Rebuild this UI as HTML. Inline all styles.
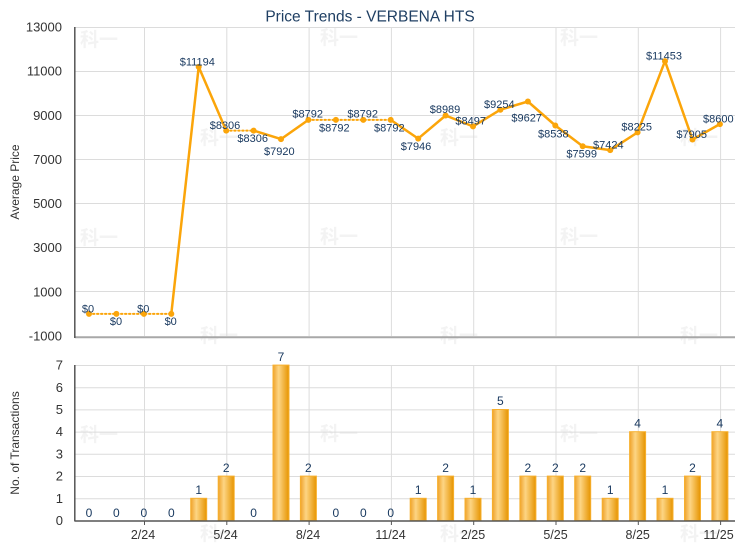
<!DOCTYPE html>
<html><head><meta charset="utf-8"><style>
html,body{margin:0;padding:0;background:#fff;}
svg{display:block;}
text{font-family:"Liberation Sans","Noto Sans CJK SC",sans-serif;}
</style></head><body>
<svg width="740" height="550" viewBox="0 0 740 550" xmlns="http://www.w3.org/2000/svg">
<defs>
<linearGradient id="bg" x1="0" y1="0" x2="1" y2="0">
<stop offset="0" stop-color="#efa22a"/>
<stop offset="0.35" stop-color="#fdd584"/>
<stop offset="1" stop-color="#e69400"/>
</linearGradient>
</defs>
<rect width="740" height="550" fill="#fff"/>
<!-- watermarks -->
<g fill="#f3f3f3" font-size="19" font-weight="bold" font-family="'Noto Sans CJK SC',sans-serif">
<text x="80" y="46">科一</text><text x="320" y="44">科一</text><text x="560" y="44">科一</text>
<text x="200" y="144">科一</text><text x="440" y="144">科一</text><text x="680" y="144">科一</text>
<text x="80" y="244">科一</text><text x="320" y="243">科一</text><text x="560" y="243">科一</text>
<text x="200" y="342">科一</text><text x="440" y="342">科一</text><text x="680" y="342">科一</text>
<text x="80" y="441">科一</text><text x="320" y="440">科一</text><text x="560" y="440">科一</text>
<text x="200" y="540">科一</text><text x="440" y="540">科一</text><text x="680" y="540">科一</text>
</g>
<!-- title -->
<text x="370" y="21.5" text-anchor="middle" font-size="15.5" fill="#1f3f63">Price Trends - VERBENA HTS</text>
<!-- top grid -->
<g stroke="#dcdcdc" stroke-width="1">
<line x1="75" y1="27.5" x2="735" y2="27.5"/>
<line x1="75" y1="71.5" x2="735" y2="71.5"/>
<line x1="75" y1="115.5" x2="735" y2="115.5"/>
<line x1="75" y1="159.5" x2="735" y2="159.5"/>
<line x1="75" y1="203.5" x2="735" y2="203.5"/>
<line x1="75" y1="247.5" x2="735" y2="247.5"/>
<line x1="75" y1="291.5" x2="735" y2="291.5"/>
<line x1="144.5" y1="27" x2="144.5" y2="336"/>
<line x1="226.8" y1="27" x2="226.8" y2="336"/>
<line x1="309.1" y1="27" x2="309.1" y2="336"/>
<line x1="391.4" y1="27" x2="391.4" y2="336"/>
<line x1="473.7" y1="27" x2="473.7" y2="336"/>
<line x1="556" y1="27" x2="556" y2="336"/>
<line x1="638.3" y1="27" x2="638.3" y2="336"/>
<line x1="720.6" y1="27" x2="720.6" y2="336"/>
</g>
<line x1="75" y1="337.3" x2="735" y2="337.3" stroke="#a8a8a8" stroke-width="2"/>
<line x1="74.8" y1="27" x2="74.8" y2="338" stroke="#555" stroke-width="1.5"/>
<!-- top y ticks -->
<g font-size="13" fill="#333" text-anchor="end">
<text x="62" y="31.5">13000</text>
<text x="62" y="75.6">11000</text>
<text x="62" y="119.8">9000</text>
<text x="62" y="163.9">7000</text>
<text x="62" y="208">5000</text>
<text x="62" y="252.2">3000</text>
<text x="62" y="296.3">1000</text>
<text x="62" y="340.5">-1000</text>
</g>
<text transform="translate(19,182) rotate(-90)" text-anchor="middle" font-size="12" fill="#333">Average Price</text>
<!-- price line -->
<g fill="none" stroke="#fba50a" stroke-linecap="round" stroke-linejoin="round">
<polyline stroke-width="2" stroke-dasharray="1.5 2.5" points="89,313.9 116.4,313.9 143.9,313.9 171.3,313.9"/>
<polyline stroke-width="2.5" points="171.3,313.9 198.7,66.9 226.2,130.6"/>
<polyline stroke-width="2" stroke-dasharray="1.5 2.5" points="226.2,130.6 253.6,130.6"/>
<polyline stroke-width="2.5" points="253.6,130.6 281,139.1 308.4,119.9"/>
<polyline stroke-width="2" stroke-dasharray="1.5 2.5" points="308.4,119.9 335.9,119.9 363.3,119.9 390.7,119.9"/>
<polyline stroke-width="2.5" points="390.7,119.9 418.2,138.6 445.6,115.5 473,126.4 500.4,109.7 527.9,101.5 555.3,125.5 582.7,146.2 610.2,150.1 637.6,132.4 665,61.1 692.5,139.5 719.9,124.1"/>
</g>
<g fill="#fba50a">
<circle cx="89" cy="313.9" r="3"/><circle cx="116.4" cy="313.9" r="3"/><circle cx="143.9" cy="313.9" r="3"/><circle cx="171.3" cy="313.9" r="3"/>
<circle cx="198.7" cy="66.9" r="3"/><circle cx="226.2" cy="130.6" r="3"/><circle cx="253.6" cy="130.6" r="3"/><circle cx="281" cy="139.1" r="3"/>
<circle cx="308.4" cy="119.9" r="3"/><circle cx="335.9" cy="119.9" r="3"/><circle cx="363.3" cy="119.9" r="3"/><circle cx="390.7" cy="119.9" r="3"/>
<circle cx="418.2" cy="138.6" r="3"/><circle cx="445.6" cy="115.5" r="3"/><circle cx="473" cy="126.4" r="3"/><circle cx="500.4" cy="109.7" r="3"/>
<circle cx="527.9" cy="101.5" r="3"/><circle cx="555.3" cy="125.5" r="3"/><circle cx="582.7" cy="146.2" r="3"/><circle cx="610.2" cy="150.1" r="3"/>
<circle cx="637.6" cy="132.4" r="3"/><circle cx="665" cy="61.1" r="3"/><circle cx="692.5" cy="139.5" r="3"/><circle cx="719.9" cy="124.1" r="3"/>
</g>
<g font-size="11" fill="#1a3a60" text-anchor="middle">
<text x="88" y="312.3">$0</text>
<text x="116" y="325">$0</text>
<text x="143.3" y="312.3">$0</text>
<text x="170.7" y="325">$0</text>
<text x="197.3" y="65.3">$11194</text>
<text x="225" y="129">$8306</text>
<text x="252.7" y="142">$8306</text>
<text x="279.3" y="155">$7920</text>
<text x="307.7" y="117.7">$8792</text>
<text x="334.3" y="131.3">$8792</text>
<text x="362.7" y="117.7">$8792</text>
<text x="389.3" y="131.3">$8792</text>
<text x="416" y="150">$7946</text>
<text x="445" y="113">$8989</text>
<text x="470.7" y="124.7">$8497</text>
<text x="499.3" y="108">$9254</text>
<text x="526.7" y="121.3">$9627</text>
<text x="553.3" y="137.3">$8538</text>
<text x="581.7" y="157.3">$7599</text>
<text x="608.3" y="148.3">$7424</text>
<text x="636.7" y="130.7">$8225</text>
<text x="664" y="59.7">$11453</text>
<text x="691.7" y="138">$7905</text>
<text x="718.3" y="122.3">$8600</text>
</g>
<!-- bottom grid -->
<g stroke="#dcdcdc" stroke-width="1">
<line x1="75" y1="365.5" x2="735" y2="365.5"/>
<line x1="75" y1="387.7" x2="735" y2="387.7"/>
<line x1="75" y1="409.9" x2="735" y2="409.9"/>
<line x1="75" y1="432.1" x2="735" y2="432.1"/>
<line x1="75" y1="454.3" x2="735" y2="454.3"/>
<line x1="75" y1="476.5" x2="735" y2="476.5"/>
<line x1="75" y1="498.7" x2="735" y2="498.7"/>
<line x1="144.5" y1="365" x2="144.5" y2="520"/>
<line x1="226.8" y1="365" x2="226.8" y2="520"/>
<line x1="309.1" y1="365" x2="309.1" y2="520"/>
<line x1="391.4" y1="365" x2="391.4" y2="520"/>
<line x1="473.7" y1="365" x2="473.7" y2="520"/>
<line x1="556" y1="365" x2="556" y2="520"/>
<line x1="638.3" y1="365" x2="638.3" y2="520"/>
<line x1="720.6" y1="365" x2="720.6" y2="520"/>
</g>
<!-- bars -->
<g fill="url(#bg)" stroke="#f7b02e" stroke-width="1">
<rect x="190.7" y="498.3" width="16" height="22.2"/>
<rect x="218.2" y="476.1" width="16" height="44.4"/>
<rect x="273" y="365.1" width="16" height="155.4"/>
<rect x="300.4" y="476.1" width="16" height="44.4"/>
<rect x="410.2" y="498.3" width="16" height="22.2"/>
<rect x="437.6" y="476.1" width="16" height="44.4"/>
<rect x="465" y="498.3" width="16" height="22.2"/>
<rect x="492.4" y="409.5" width="16" height="111"/>
<rect x="519.9" y="476.1" width="16" height="44.4"/>
<rect x="547.3" y="476.1" width="16" height="44.4"/>
<rect x="574.7" y="476.1" width="16" height="44.4"/>
<rect x="602.2" y="498.3" width="16" height="22.2"/>
<rect x="629.6" y="431.7" width="16" height="88.8"/>
<rect x="657" y="498.3" width="16" height="22.2"/>
<rect x="684.5" y="476.1" width="16" height="44.4"/>
<rect x="711.9" y="431.7" width="16" height="88.8"/>
</g>
<line x1="75" y1="521" x2="735" y2="521" stroke="#555" stroke-width="1.5"/>
<line x1="74.8" y1="365" x2="74.8" y2="521.5" stroke="#555" stroke-width="1.5"/>
<g stroke="#555" stroke-width="1">
<line x1="144.5" y1="521" x2="144.5" y2="525"/>
<line x1="226.8" y1="521" x2="226.8" y2="525"/>
<line x1="309.1" y1="521" x2="309.1" y2="525"/>
<line x1="391.4" y1="521" x2="391.4" y2="525"/>
<line x1="473.7" y1="521" x2="473.7" y2="525"/>
<line x1="556" y1="521" x2="556" y2="525"/>
<line x1="638.3" y1="521" x2="638.3" y2="525"/>
<line x1="720.6" y1="521" x2="720.6" y2="525"/>
</g>
<!-- bar labels -->
<g font-size="12" fill="#1a3a60" text-anchor="middle">
<text x="89" y="517">0</text><text x="116.4" y="517">0</text><text x="143.9" y="517">0</text><text x="171.3" y="517">0</text>
<text x="198.7" y="494">1</text><text x="226.2" y="472">2</text><text x="253.6" y="517">0</text><text x="281" y="361">7</text>
<text x="308.4" y="472">2</text><text x="335.9" y="517">0</text><text x="363.3" y="517">0</text><text x="390.7" y="517">0</text>
<text x="418.2" y="494">1</text><text x="445.6" y="472">2</text><text x="473" y="494">1</text><text x="500.4" y="405">5</text>
<text x="527.9" y="472">2</text><text x="555.3" y="472">2</text><text x="582.7" y="472">2</text><text x="610.2" y="494">1</text>
<text x="637.6" y="427.5">4</text><text x="665" y="494">1</text><text x="692.5" y="472">2</text><text x="719.9" y="427.5">4</text>
</g>
<!-- bottom y ticks -->
<g font-size="13" fill="#333" text-anchor="end">
<text x="63" y="525">0</text>
<text x="63" y="502.8">1</text>
<text x="63" y="480.6">2</text>
<text x="63" y="458.4">3</text>
<text x="63" y="436.2">4</text>
<text x="63" y="414">5</text>
<text x="63" y="391.8">6</text>
<text x="63" y="369.6">7</text>
</g>
<text transform="translate(19,443) rotate(-90)" text-anchor="middle" font-size="12" fill="#333">No. of Transactions</text>
<!-- x labels -->
<g font-size="12.5" fill="#333" text-anchor="middle">
<text x="143" y="539">2/24</text>
<text x="225.5" y="539">5/24</text>
<text x="308" y="539">8/24</text>
<text x="390.5" y="539">11/24</text>
<text x="473" y="539">2/25</text>
<text x="555.5" y="539">5/25</text>
<text x="637.7" y="539">8/25</text>
<text x="718.5" y="539">11/25</text>
</g>
</svg>
</body></html>
